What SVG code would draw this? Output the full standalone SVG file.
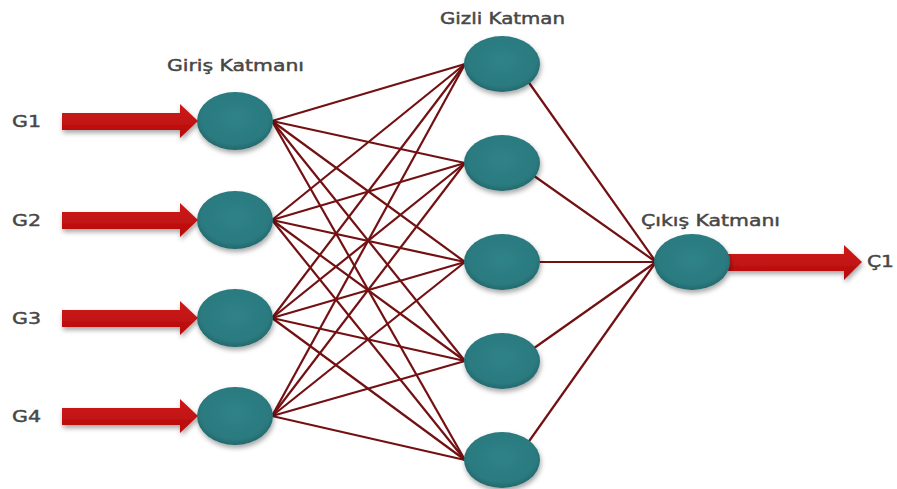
<svg xmlns="http://www.w3.org/2000/svg" width="897" height="489" viewBox="0 0 897 489">
  <defs>
    <radialGradient id="nodeFill" cx="50%" cy="45%" r="60%">
      <stop offset="0%" stop-color="#2f8388"/>
      <stop offset="75%" stop-color="#2a7a7f"/>
      <stop offset="100%" stop-color="#205f63"/>
    </radialGradient>
    <filter id="shadow" x="-30%" y="-30%" width="160%" height="170%">
      <feDropShadow dx="1" dy="3" stdDeviation="2.5" flood-color="#000" flood-opacity="0.35"/>
    </filter>
    <linearGradient id="arrowFill" x1="0" y1="0" x2="0" y2="1">
      <stop offset="0%" stop-color="#d01a1a"/>
      <stop offset="100%" stop-color="#b50c0c"/>
    </linearGradient>
  </defs>
  <style>
    .node { fill: url(#nodeFill); filter: url(#shadow); }
    .link { stroke: #731012; stroke-width: 2.2; fill: none; }
    .arrow { fill: url(#arrowFill); filter: url(#shadow); }
    .label { font-family: "DejaVu Sans", "Liberation Sans", sans-serif; font-size: 16px; fill: #474747; stroke: #474747; stroke-width: 0.45; }
  </style>

  <rect width="897" height="489" fill="#ffffff"/>

  <!-- input-to-hidden and hidden-to-output weights -->
  <g id="connectors">
    <g>
      <line class="link" x1="272" y1="121" x2="465" y2="64"/>
      <line class="link" x1="272" y1="121" x2="465" y2="163"/>
      <line class="link" x1="272" y1="121" x2="465" y2="262"/>
      <line class="link" x1="272" y1="121" x2="465" y2="361"/>
      <line class="link" x1="272" y1="121" x2="465" y2="460"/>

      <line class="link" x1="272" y1="220" x2="465" y2="64"/>
      <line class="link" x1="272" y1="220" x2="465" y2="163"/>
      <line class="link" x1="272" y1="220" x2="465" y2="262"/>
      <line class="link" x1="272" y1="220" x2="465" y2="361"/>
      <line class="link" x1="272" y1="220" x2="465" y2="460"/>

      <line class="link" x1="272" y1="318" x2="465" y2="64"/>
      <line class="link" x1="272" y1="318" x2="465" y2="163"/>
      <line class="link" x1="272" y1="318" x2="465" y2="262"/>
      <line class="link" x1="272" y1="318" x2="465" y2="361"/>
      <line class="link" x1="272" y1="318" x2="465" y2="460"/>

      <line class="link" x1="272" y1="416" x2="465" y2="64"/>
      <line class="link" x1="272" y1="416" x2="465" y2="163"/>
      <line class="link" x1="272" y1="416" x2="465" y2="262"/>
      <line class="link" x1="272" y1="416" x2="465" y2="361"/>
      <line class="link" x1="272" y1="416" x2="465" y2="460"/>
    </g>
    <g>
      <line class="link" x1="520" y1="70" x2="656" y2="262"/>
      <line class="link" x1="520" y1="166" x2="656" y2="262"/>
      <line class="link" x1="520" y1="262" x2="656" y2="262"/>
      <line class="link" x1="520" y1="358" x2="656" y2="262"/>
      <line class="link" x1="520" y1="454" x2="656" y2="262"/>
    </g>
    <!-- input and output arrows -->
    <path class="arrow" d="M62,113 H180 V104 L198,121 L180,138 V130 H62 Z"/>
    <path class="arrow" d="M62,212 H180 V203 L198,220 L180,237 V229 H62 Z"/>
    <path class="arrow" d="M62,310 H180 V301 L198,318 L180,335 V327 H62 Z"/>
    <path class="arrow" d="M62,408 H180 V399 L198,416 L180,433 V425 H62 Z"/>
    <path class="arrow" d="M728,254 H844 V245 L862,262 L844,280 V271 H728 Z"/>
  </g>

  <!-- input layer -->
  <g id="in1"><ellipse class="node" cx="235" cy="121" rx="38" ry="29"/><text class="label" x="12" y="127" textLength="29" lengthAdjust="spacingAndGlyphs">G1</text></g>
  <g id="in2"><ellipse class="node" cx="235" cy="220" rx="38" ry="29"/><text class="label" x="12" y="226" textLength="29" lengthAdjust="spacingAndGlyphs">G2</text></g>
  <g id="in3"><ellipse class="node" cx="235" cy="318" rx="38" ry="29"/><text class="label" x="12" y="324" textLength="29" lengthAdjust="spacingAndGlyphs">G3</text></g>
  <g id="in4"><ellipse class="node" cx="235" cy="416" rx="38" ry="29"/><text class="label" x="12" y="422" textLength="29" lengthAdjust="spacingAndGlyphs">G4</text></g>

  <!-- hidden layer -->
  <g id="hid1"><ellipse class="node" cx="502" cy="64" rx="38" ry="28"/></g>
  <g id="hid2"><ellipse class="node" cx="502" cy="163" rx="38" ry="28"/></g>
  <g id="hid3"><ellipse class="node" cx="502" cy="262" rx="38" ry="28"/></g>
  <g id="hid4"><ellipse class="node" cx="502" cy="361" rx="38" ry="28"/></g>
  <g id="hid5"><ellipse class="node" cx="502" cy="460" rx="38" ry="28"/></g>

  <!-- output layer -->
  <g id="out1"><ellipse class="node" cx="692" cy="262" rx="38" ry="28"/><text class="label" x="867" y="267" textLength="27" lengthAdjust="spacingAndGlyphs">Ç1</text></g>

  <!-- layer titles -->
  <g id="titles">
    <text class="label" x="167" y="71" textLength="137" lengthAdjust="spacingAndGlyphs">Giriş Katmanı</text>
    <text class="label" x="440" y="24" textLength="125" lengthAdjust="spacingAndGlyphs">Gizli Katman</text>
    <text class="label" x="641" y="226" textLength="139" lengthAdjust="spacingAndGlyphs">Çıkış Katmanı</text>
  </g>
</svg>
